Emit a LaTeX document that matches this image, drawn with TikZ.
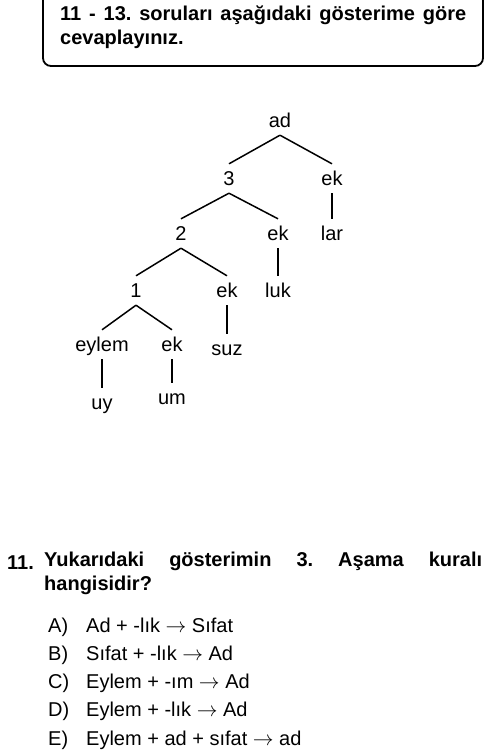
\documentclass[tikz,border=0pt]{standalone}
\usepackage{fontspec}
\setmainfont{Liberation Sans}
\frenchspacing
\begin{document}
\begin{tikzpicture}[x=1pt,y=-1pt,
	lbl/.style={anchor=base,font=\fontsize{20}{24}\selectfont,text height=17pt,text depth=4pt,inner xsep=1pt,inner ysep=4pt},
	opt/.style={anchor=base west,inner sep=0pt,font=\fontsize{20}{24}\selectfont},
	para/.style={anchor=base west,inner sep=0pt,font=\bfseries\fontsize{20}{24}\selectfont}]
	\useasboundingbox (0,0) rectangle (500,756);
	% header box
	\draw [line width=1.8pt, rounded corners=8pt] (43,-20) rectangle (483,66);
	\node[para, text width=406pt, align=justify] (head) at (60,20) {11 - 13. soruları aşağıdaki gösterime göre \mbox{cevaplayınız.}};
	% tree
	\node[lbl] (ad) at (280,127) {ad};
	\node[lbl] (n3) at (229,185) {3};
	\node[lbl] (ekA) at (332,185) {ek};
	\node[lbl] (n2) at (181,240) {2};
	\node[lbl] (ekB) at (278,240) {ek};
	\node[lbl] (lar) at (332,240) {lar};
	\node[lbl] (n1) at (136,297) {1};
	\node[lbl] (ekC) at (227,297) {ek};
	\node[lbl] (luk) at (278,297) {luk};
	\node[lbl] (eylem) at (102,351) {eylem};
	\node[lbl] (ekD) at (172,351) {ek};
	\node[lbl] (suz) at (227,355) {suz};
	\node[lbl] (uy) at (102,409) {uy};
	\node[lbl] (um) at (172,404) {um};
	\foreach \a/\b in {ad/n3,ad/ekA,n3/n2,n3/ekB,n2/n1,n2/ekC,n1/eylem,n1/ekD,
		ekA/lar,ekB/luk,ekC/suz,eylem/uy,ekD/um}
		\draw [line width=1.5pt] (\a.south) -- (\b.north);
	% question
	\node[para] (qnum) at (7,569) {11.};
	\node[para, text width=438pt, align=justify] (q) at (44,566) {Yukarıdaki gösterimin 3. Aşama kuralı \mbox{hangisidir?}};
	\foreach \lab/\txt [count=\i] in {A/Ad + -lık $\rightarrow$ Sıfat, B/Sıfat + -lık $\rightarrow$ Ad,
		C/Eylem + -ım $\rightarrow$ Ad, D/Eylem + -lık $\rightarrow$ Ad, E/Eylem + ad + sıfat $\rightarrow$ ad}
	{
		\node[opt] (lab\i) at (48,632+28.3*\i-28.3) {\lab)};
		\node[opt] (opt\i) at (86,632+28.3*\i-28.3) {\txt};
	}
\end{tikzpicture}
\end{document}
